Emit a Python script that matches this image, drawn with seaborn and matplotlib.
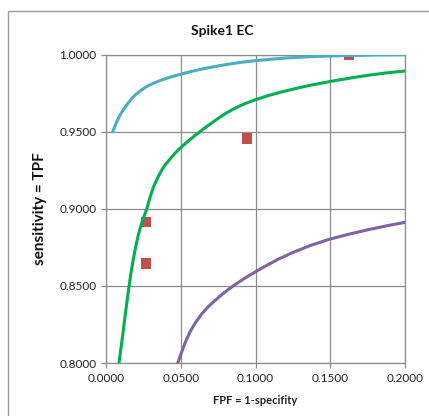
import matplotlib
matplotlib.use("Agg")
import matplotlib.pyplot as plt
import seaborn as sns
import pandas as pd
from matplotlib.patches import Rectangle

# ---- data ----
blue_x = [0.0045, 0.0070, 0.0094, 0.0118, 0.0140, 0.0162, 0.0183, 0.0210, 0.0240, 0.0268, 0.0294, 0.0345, 0.0400, 0.0450, 0.0495, 0.0560, 0.0629, 0.0710, 0.0800, 0.0900, 0.1000, 0.1100, 0.1200, 0.1365, 0.1600, 0.1800, 0.2000]
blue_y = [0.9500, 0.9560, 0.9608, 0.9645, 0.9675, 0.9702, 0.9726, 0.9750, 0.9772, 0.9789, 0.9803, 0.9825, 0.9844, 0.9859, 0.9871, 0.9888, 0.9903, 0.9919, 0.9934, 0.9949, 0.9960, 0.9969, 0.9977, 0.9986, 0.9993, 0.9997, 0.9999]

green_x = [0.0087, 0.0102, 0.0116, 0.0135, 0.0154, 0.0168, 0.0183, 0.0200, 0.0216, 0.0232, 0.0250, 0.0272, 0.0295, 0.0317, 0.0345, 0.0372, 0.0400, 0.0428, 0.0460, 0.0495, 0.0530, 0.0562, 0.0595, 0.0629, 0.0665, 0.0700, 0.0750, 0.0807, 0.0850, 0.0900, 0.0950, 0.0997, 0.1090, 0.1186, 0.1280, 0.1365, 0.1494, 0.1620, 0.1744, 0.1870, 0.2000]
green_y = [0.8000, 0.8110, 0.8214, 0.8360, 0.8495, 0.8590, 0.8675, 0.8760, 0.8830, 0.8885, 0.8940, 0.8997, 0.9075, 0.9140, 0.9200, 0.9250, 0.9290, 0.9322, 0.9358, 0.9392, 0.9422, 0.9448, 0.9475, 0.9500, 0.9527, 0.9551, 0.9586, 0.9622, 0.9645, 0.9669, 0.9689, 0.9706, 0.9735, 0.9760, 0.9782, 0.9800, 0.9824, 0.9845, 0.9864, 0.9880, 0.9893]

purple_x = [0.0480, 0.0505, 0.0528, 0.0560, 0.0595, 0.0640, 0.0684, 0.0730, 0.0774, 0.0820, 0.0863, 0.0930, 0.1001, 0.1064, 0.1150, 0.1253, 0.1370, 0.1494, 0.1620, 0.1744, 0.1870, 0.2000]
purple_y = [0.8000, 0.8068, 0.8128, 0.8198, 0.8257, 0.8318, 0.8365, 0.8406, 0.8443, 0.8478, 0.8508, 0.8551, 0.8592, 0.8627, 0.8672, 0.8718, 0.8763, 0.8802, 0.8834, 0.8862, 0.8888, 0.8912]

pts_x = [0.0268, 0.0268, 0.0943, 0.1625]
pts_y = [0.8915, 0.8646, 0.9455, 1.0000]

x_ticks = [0.0, 0.05, 0.10, 0.15, 0.20]
x_tick_labels = ["0.0000", "0.0500", "0.1000", "0.1500", "0.2000"]
y_ticks = [0.80, 0.85, 0.90, 0.95, 1.00]
y_tick_labels = ["0.8000", "0.8500", "0.9000", "0.9500", "1.0000"]

title = "Spike1 EC"
x_label = "FPF = 1-specifity"
y_label = "sensitivity = TPF"

curves = pd.concat([
    pd.DataFrame({"x": blue_x, "y": blue_y, "curve": "high"}),
    pd.DataFrame({"x": green_x, "y": green_y, "curve": "mid"}),
    pd.DataFrame({"x": purple_x, "y": purple_y, "curve": "low"}),
], ignore_index=True)
points = pd.DataFrame({"x": pts_x, "y": pts_y})

# ---- style ----
sns.set_theme(style="white")
plt.rcParams["font.family"] = ["Lato", "DejaVu Sans"]

grid_c = "#8c8c8c"
palette = {"high": "#4BACC6", "mid": "#00B050", "low": "#8064A2"}

fig = plt.figure(figsize=(4.29, 4.16), dpi=100)
ax = fig.add_axes([106 / 429, 1 - 363 / 416, (405 - 106) / 429, (363 - 54.5) / 416])

# outer chart border
fig.patches.append(Rectangle((8 / 429, -0.1), 1.2, 1 - 11 / 416 + 0.1,
                             transform=fig.transFigure, fill=False,
                             edgecolor="#9a9a9a", linewidth=1.0))

sns.scatterplot(data=points, x="x", y="y", ax=ax, marker="s", s=55,
                color="#C0504D", edgecolor="none", zorder=2, legend=False)
sns.lineplot(data=curves, x="x", y="y", hue="curve", palette=palette,
             sort=False, estimator=None, ax=ax, linewidth=2.2, legend=False,
             zorder=3)

ax.set_xlim(0, 0.2)
ax.set_ylim(0.8, 1.0)
ax.set_xticks(x_ticks)
ax.set_xticklabels(x_tick_labels)
ax.set_yticks(y_ticks)
ax.set_yticklabels(y_tick_labels)
ax.grid(True, color=grid_c, linewidth=0.9)
ax.set_axisbelow(True)
for s in ax.spines.values():
    s.set_color(grid_c)
    s.set_linewidth(0.9)
ax.tick_params(axis="both", which="both", length=3.5, width=0.9, color=grid_c,
               labelsize=8.5, labelcolor="#222222", pad=3.5, direction="out",
               bottom=True, left=True)

ax.set_xlabel(x_label, fontsize=8, fontweight="bold", color="#222222", labelpad=8)
ax.set_ylabel(y_label, fontsize=11, fontweight="bold", color="#111111")
ax.yaxis.set_label_coords((47 - 106) / 299, 0.5)
fig.text(222 / 429, 1 - 31 / 416, title, fontsize=10, fontweight="bold",
         color="#111111", ha="center", va="center")

fig.savefig("out.png", dpi=100, facecolor="white")
